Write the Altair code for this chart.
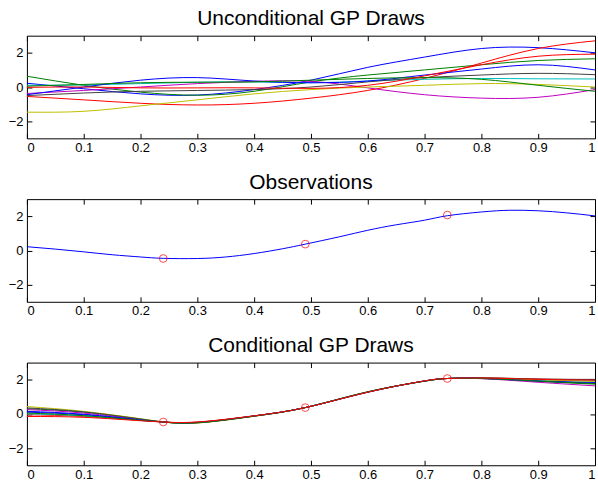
import altair as alt
import pandas as pd

# ---------------- data ----------------
SERIES = ["s01", "s02", "s03", "s04", "s05", "s06", "s07", "s08", "s09", "s10"]
COLORS = ["#0000FF", "#008000", "#FF0000", "#00BFBF", "#BF00BF",
          "#BFBF00", "#404040", "#0000FF", "#008000", "#FF0000"]

# Unconditional GP draws
X_UNC = [0.0, 0.1, 0.2, 0.3, 0.4, 0.5, 0.6, 0.7, 0.8, 0.9, 1.0]
UNC_B1 = [0.22, -0.1, -0.4, -0.47, -0.15, 0.4, 1.15, 1.75, 2.25, 2.3, 2.0]
UNC_G1 = [0.63, 0.1, -0.3, -0.48, -0.25, 0.3, 0.7, 1.0, 1.3, 1.55, 1.65]
UNC_R1 = [-0.55, -0.75, -0.95, -1.05, -0.95, -0.65, -0.2, 0.5, 1.4, 2.25, 2.7]
UNC_C1 = [0.1, 0.12, 0.2, 0.28, 0.3, 0.25, 0.35, 0.45, 0.5, 0.48, 0.47]
UNC_M1 = [-0.38, -0.2, 0.0, 0.2, 0.33, 0.33, -0.05, -0.45, -0.65, -0.6, -0.15]
UNC_Y1 = [-1.47, -1.42, -1.1, -0.75, -0.4, -0.15, 0.0, 0.1, 0.2, 0.15, 0.0]
UNC_K1 = [-0.5, -0.35, -0.25, -0.2, -0.15, 0.0, 0.3, 0.55, 0.7, 0.8, 0.72]
UNC_B2 = [-0.45, 0.0, 0.4, 0.55, 0.35, 0.25, 0.35, 0.7, 1.05, 1.3, 1.0]
UNC_G2 = [0.05, 0.15, 0.25, 0.28, 0.3, 0.4, 0.5, 0.55, 0.45, 0.1, -0.25]
UNC_R2 = [-0.02, 0.0, -0.05, -0.05, -0.05, -0.08, 0.1, 0.65, 1.3, 1.8, 1.92]

# Observed function and observations
X_OBS_LINE = [0.0, 0.05, 0.1, 0.15, 0.2, 0.24, 0.3, 0.35, 0.4, 0.45, 0.49,
              0.55, 0.6, 0.65, 0.7, 0.74, 0.8, 0.85, 0.9, 0.95, 1.0]
Y_OBS_LINE = [0.22, 0.08, -0.08, -0.25, -0.38, -0.46, -0.47, -0.38, -0.18, 0.1, 0.37,
              0.8, 1.18, 1.5, 1.77, 2.03, 2.25, 2.35, 2.32, 2.2, 2.02]
X_OBS = [0.24, 0.49, 0.74]
Y_OBS = [-0.47, 0.37, 2.07]

# Conditional GP draws
X_CON = [0.0, 0.1, 0.2, 0.24, 0.3, 0.4, 0.49, 0.6, 0.7, 0.74, 0.8, 0.9, 1.0]
CON_B1 = [0.1, -0.05, -0.36, -0.47, -0.49, -0.12, 0.37, 1.27, 1.93, 2.07, 2.08, 1.94, 1.84]
CON_G1 = [0.3, 0.1, -0.3, -0.47, -0.52, -0.13, 0.37, 1.29, 1.92, 2.07, 2.07, 1.9, 1.74]
CON_R1 = [-0.05, -0.15, -0.38, -0.47, -0.48, -0.11, 0.37, 1.27, 1.93, 2.07, 2.11, 2.04, 2.0]
CON_C1 = [0.0, -0.12, -0.38, -0.47, -0.5, -0.12, 0.37, 1.28, 1.92, 2.07, 2.09, 1.98, 1.92]
CON_M1 = [0.25, 0.05, -0.33, -0.47, -0.5, -0.12, 0.37, 1.28, 1.92, 2.07, 2.06, 1.85, 1.64]
CON_Y1 = [0.43, 0.15, -0.28, -0.47, -0.53, -0.14, 0.37, 1.3, 1.91, 2.07, 2.1, 2.0, 1.9]
CON_K1 = [0.35, 0.12, -0.3, -0.47, -0.52, -0.13, 0.37, 1.29, 1.92, 2.07, 2.11, 2.04, 2.02]
CON_B2 = [0.15, -0.02, -0.35, -0.47, -0.5, -0.12, 0.37, 1.28, 1.92, 2.07, 2.08, 1.92, 1.8]
CON_G2 = [0.05, -0.1, -0.37, -0.47, -0.51, -0.12, 0.37, 1.28, 1.92, 2.07, 2.07, 1.92, 1.77]
CON_R2 = [-0.15, -0.2, -0.4, -0.47, -0.47, -0.11, 0.37, 1.27, 1.93, 2.07, 2.1, 2.02, 1.97]

X_TICKS = [0, 0.1, 0.2, 0.3, 0.4, 0.5, 0.6, 0.7, 0.8, 0.9, 1]
Y_TICKS = [-2, 0, 2]

TITLES = ["Unconditional GP Draws", "Observations", "Conditional GP Draws"]

FONT = "Liberation Sans"


def long_df(xs, lists):
    rows = []
    for name, ys in zip(SERIES, lists):
        for i, (x, y) in enumerate(zip(xs, ys)):
            rows.append({"x": x, "y": y, "s": name, "i": i})
    return pd.DataFrame(rows)


unc_df = long_df(X_UNC, [UNC_B1, UNC_G1, UNC_R1, UNC_C1, UNC_M1,
                         UNC_Y1, UNC_K1, UNC_B2, UNC_G2, UNC_R2])
con_df = long_df(X_CON, [CON_B1, CON_G1, CON_R1, CON_C1, CON_M1,
                         CON_Y1, CON_K1, CON_B2, CON_G2, CON_R2])
obs_line_df = pd.DataFrame({"x": X_OBS_LINE, "y": Y_OBS_LINE,
                            "s": "s01", "i": list(range(len(X_OBS_LINE)))})
obs_df = pd.DataFrame({"x": X_OBS, "y": Y_OBS})

TICK = 5


def axis(orient, labels):
    kw = dict(orient=orient, title=None, grid=False, domain=False,
              offset=-TICK, tickSize=TICK, tickColor="black", tickWidth=1,
              labels=labels, labelFont=FONT, labelFontSize=13,
              labelColor="black", format="~g", minExtent=0, maxExtent=60)
    if orient in ("bottom", "top"):
        kw["values"] = X_TICKS
        kw["labelPadding"] = 3
    else:
        kw["values"] = Y_TICKS
        kw["labelPadding"] = 4
    if not labels:
        kw["labelFontSize"] = 1
    return alt.Axis(**kw)


def panel(lines_df, title, points_df=None):
    xs = alt.Scale(domain=[0, 1], nice=False, zero=False)
    ys = alt.Scale(domain=[-3, 3], nice=False, zero=False)
    lines = alt.Chart(lines_df).mark_line(strokeWidth=1, interpolate="natural").encode(
        x=alt.X("x:Q", scale=xs, axis=axis("bottom", True)),
        y=alt.Y("y:Q", scale=ys, axis=axis("left", True)),
        color=alt.Color("s:N", scale=alt.Scale(domain=SERIES, range=COLORS), legend=None),
        order=alt.Order("i:Q"),
    )
    layers = [lines]
    if points_df is not None:
        pts = alt.Chart(points_df).mark_point(
            shape="circle", filled=False, color="#FF0000", size=60, strokeWidth=1
        ).encode(
            x=alt.X("x:Q", scale=xs, axis=None),
            y=alt.Y("y:Q", scale=ys, axis=None),
        )
        layers.append(pts)
    frame = alt.Chart(lines_df).mark_line(opacity=0).encode(
        x=alt.X("x:Q", scale=xs, axis=axis("top", False)),
        y=alt.Y("y:Q", scale=ys, axis=axis("right", False)),
        detail="s:N",
    )
    layers.append(frame)
    return alt.layer(*layers).resolve_axis(x="independent", y="independent").properties(
        width=570, height=103,
        title=alt.TitleParams(title, font=FONT, fontSize=21, fontWeight="normal",
                              color="black", baseline="alphabetic", offset=-11),
    )


chart = alt.vconcat(
    panel(unc_df, TITLES[0]),
    panel(obs_line_df, TITLES[1], obs_df),
    panel(con_df, TITLES[2], obs_df),
    spacing=16,
).properties(
    padding={"left": 7, "top": 7, "right": 0, "bottom": 0},
    background="white",
).configure_view(stroke="black", strokeWidth=1)

chart.save("out.html", embed_options={"renderer": "svg", "actions": False})
